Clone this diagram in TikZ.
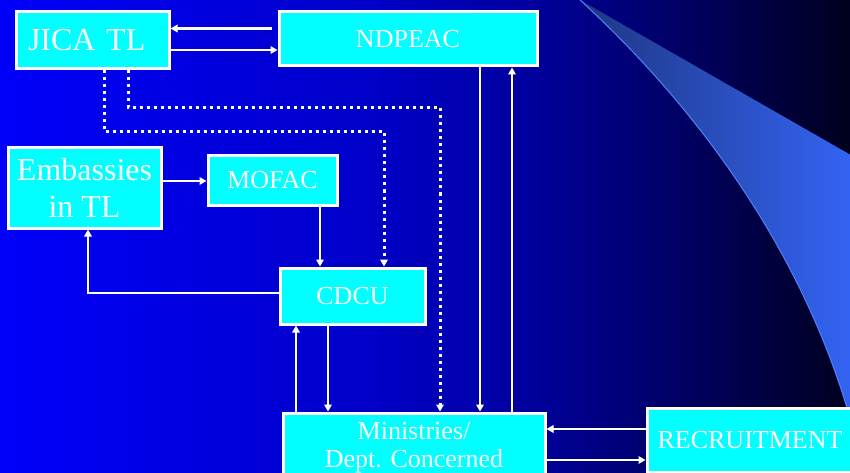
\documentclass[tikz,border=0pt]{standalone}
\usepackage{fontspec}
\setmainfont{Liberation Serif}
\usetikzlibrary{arrows.meta, calc}

\definecolor{boxcyan}{RGB}{0,255,255}
\definecolor{swdark}{RGB}{30,55,130}
\definecolor{swlight}{RGB}{52,100,245}
\definecolor{swedge}{RGB}{80,130,255}
\pgfdeclarehorizontalshading{slideback}{100bp}{rgb(0bp)=(0,0,0.98); rgb(25bp)=(0,0,0.98);
  rgb(47bp)=(0,0,0.78); rgb(56bp)=(0,0,0.62); rgb(65bp)=(0,0,0.39); rgb(75bp)=(0,0,0.12);
  rgb(100bp)=(0,0,0.12)}

\begin{document}
\begin{tikzpicture}[x=1pt, y=-1pt,
  unit/.style={draw=white, line width=3pt, fill=boxcyan, text=white, inner sep=0pt,
    font=\fontsize{26}{28}\selectfont, align=center},
  bigunit/.style={unit, font=\fontsize{32}{37}\selectfont},
  conn/.style={white, line width=2.8pt, -{Triangle[length=7pt,width=7.5pt]}},
  dotconn/.style={conn, line width=3pt, dash pattern=on 3pt off 4pt}]
\useasboundingbox (0,0) rectangle (850,473);
\clip (0,0) rectangle (850,473);

% Background and swoosh
\shade[shading=slideback] (0,0) rectangle (850,473);
\shade[left color=swdark, right color=swlight] (580,0) .. controls (700,110) and (810,260) .. (856,440) -- (856,158) -- cycle;
\draw[swedge, line width=1pt] (580,0) .. controls (700,110) and (810,260) .. (856,440);

% Units
\node[bigunit, minimum width=153pt, minimum height=57pt, text width=129pt, align=left] (jica) at (92.5,40.5) {JICA TL};
\node[unit, minimum width=258pt, minimum height=54pt] (ndpeac) at (408,39) {NDPEAC};
\node[bigunit, minimum width=153pt, minimum height=80pt] (emb) at (84.5,188) {Embassies\\in TL};
\node[unit, minimum width=129pt, minimum height=49pt] (mofac) at (272.5,180.5) {MOFAC};
\node[unit, minimum width=145pt, minimum height=56pt] (cdcu) at (352.5,296) {CDCU};
\node[unit, minimum width=262pt, minimum height=70pt] (min) at (414,448) {Ministries/\\Dept. Concerned};
\node[unit, minimum width=206pt, minimum height=64pt] (recr) at (750,440) {RECRUITMENT};
\coordinate (ndout) at (272,28.5);

% JICA TL and NDPEAC
\draw[conn] (ndout) -- (jica.east |- ndout);
\draw[conn] (jica.east |- 0,50) -- (ndpeac.west |- 0,50);
\draw[dotconn] (jica.south -| 104,0) |- (384,132) -- (cdcu.north -| 384,0);
\draw[dotconn] (jica.south -| 128,0) |- (440,108) -- (min.north -| 440,0);

% Embassies, MOFAC and CDCU
\draw[conn] (emb.east |- 0,181) -- (mofac.west |- 0,181);
\draw[conn] (mofac.south -| 320,0) -- (cdcu.north -| 320,0);
\draw[conn] ([yshift=3pt]cdcu.west) -| (emb.south -| 88,0);

% Ministries
\draw[conn] (min.north -| 296,0) -- (cdcu.south -| 296,0);
\draw[conn] (cdcu.south -| 328,0) -- (min.north -| 328,0);
\draw[conn] (ndpeac.south -| 480,0) -- (min.north -| 480,0);
\draw[conn] (min.north -| 512,0) -- (ndpeac.south -| 512,0);
\draw[conn] (recr.west |- 0,429) -- (min.east |- 0,429);
\draw[conn] (min.east |- 0,460) -- (recr.west |- 0,460);
\end{tikzpicture}
\end{document}
